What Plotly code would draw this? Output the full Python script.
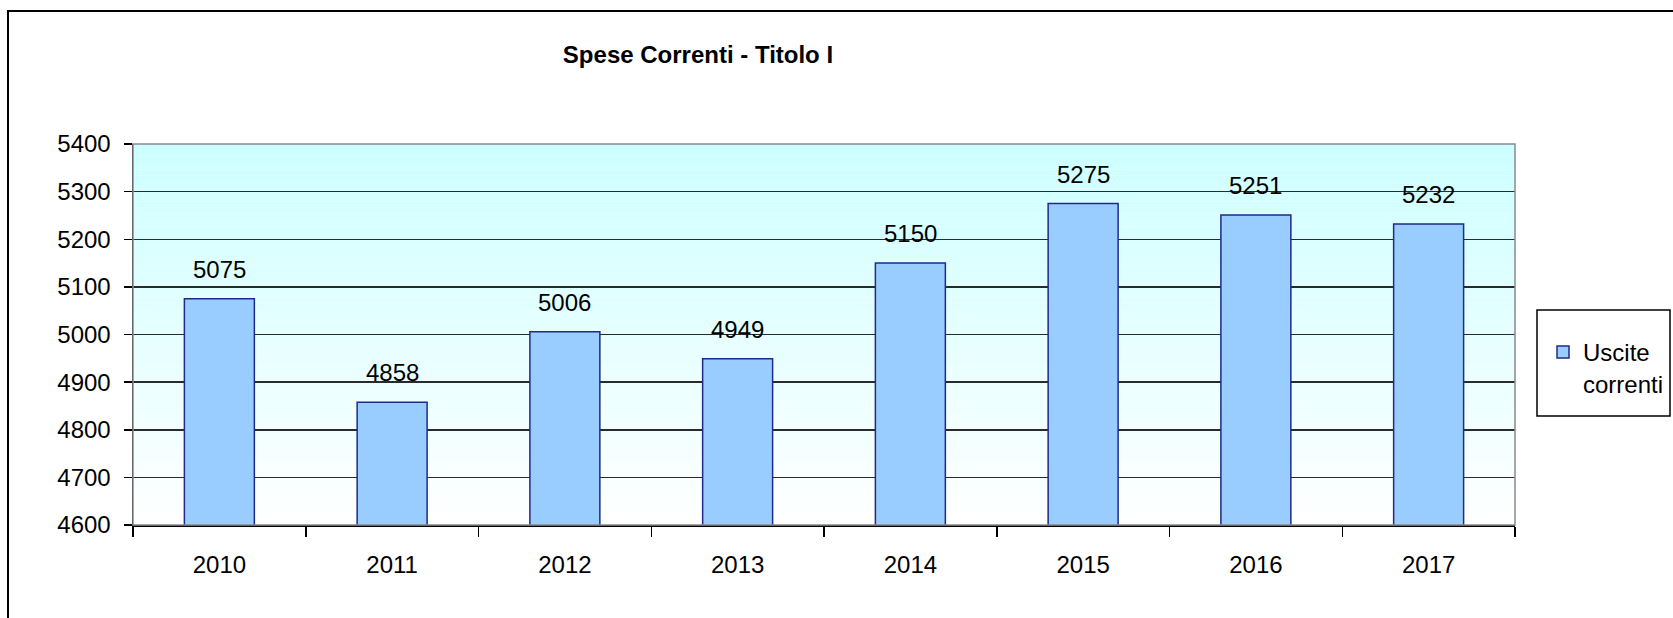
import plotly.graph_objects as go

years = ["2010", "2011", "2012", "2013", "2014", "2015", "2016", "2017"]
values = [5075, 4858, 5006, 4949, 5150, 5275, 5251, 5232]
series_name = "Uscite<br>correnti"
title_text = "Spese Correnti - Titolo I"
y_ticks = [4600, 4700, 4800, 4900, 5000, 5100, 5200, 5300, 5400]

W, H = 1673, 618
L, R, T, B = 133, 1515, 144, 525
pw, ph = R - L, B - T

def px_x(p):
    return (p - L) / pw

def px_y(p):
    return (B - p) / ph

FONT = "Liberation Sans, Arial, sans-serif"
FS = 24

fig = go.Figure()
fig.add_trace(go.Bar(
    x=years, y=values, name=series_name, width=0.405,
    marker=dict(color="#99CCFF", line=dict(color="#1F2A8A", width=1.5)),
    showlegend=True, hoverinfo="skip",
))

annotations = []
for i, v in enumerate(values):
    annotations.append(dict(
        x=i, y=v, text=str(v), showarrow=False, xref="x", yref="y",
        yanchor="bottom", yshift=14, font=dict(family=FONT, size=FS, color="black"),
    ))

shapes = []
# gradient background of plot area
n = 60
top_rgb = (204, 255, 255)
bot_rgb = (255, 255, 255)
for k_ in range(n):
    t = (k_ + 0.5) / n
    c = tuple(round(bot_rgb[k] + (top_rgb[k] - bot_rgb[k]) * t) for k in range(3))
    shapes.append(dict(
        type="rect", xref="paper", yref="paper",
        x0=0, x1=1, y0=k_ / n, y1=(k_ + 1) / n,
        fillcolor="rgb(%d,%d,%d)" % c, line=dict(width=0), layer="below",
    ))
# plot area gray frame (top/right)
shapes.append(dict(
    type="rect", xref="paper", yref="paper", x0=0, x1=1, y0=0, y1=1,
    line=dict(color="#8a8a8a", width=1.5), fillcolor="rgba(0,0,0,0)", layer="above",
))
# outer chart border
shapes.append(dict(
    type="rect", xref="paper", yref="paper",
    x0=px_x(8), x1=px_x(1690), y0=px_y(640), y1=px_y(11),
    line=dict(color="black", width=2), fillcolor="rgba(0,0,0,0)", layer="below",
))
# legend box
shapes.append(dict(
    type="rect", xref="paper", yref="paper",
    x0=px_x(1537), x1=px_x(1670), y0=px_y(416), y1=px_y(310),
    line=dict(color="black", width=1.5), fillcolor="white", layer="below",
))

fig.update_layout(
    width=W, height=H,
    margin=dict(l=L, r=W - R, t=T, b=H - B, pad=0, autoexpand=False),
    paper_bgcolor="white", plot_bgcolor="white",
    font=dict(family=FONT, size=FS, color="black"),
    title=dict(text="<b>%s</b>" % title_text, x=698 / W, xanchor="center",
               y=1 - 55 / H, yanchor="middle", yref="container",
               font=dict(family=FONT, size=24, color="black")),
    showlegend=True,
    legend=dict(xref="container", yref="container", x=1543 / W, y=1 - 330 / H,
                xanchor="left", yanchor="top",
                bgcolor="rgba(0,0,0,0)", borderwidth=0, valign="top",
                font=dict(family=FONT, size=FS, color="black"), itemwidth=30),
    xaxis=dict(type="category", range=[-0.5, len(years) - 0.5], autorange=False,
               showgrid=False, showline=True, linecolor="black", linewidth=1.5,
               ticks="outside", tickson="boundaries", ticklen=10, tickcolor="black", tickwidth=1.5,
               tickangle=0, ticklabelstandoff=18, tickfont=dict(family=FONT, size=FS, color="black")),
    yaxis=dict(range=[4600, 5400], autorange=False, tickvals=y_ticks, showgrid=True,
               gridcolor="#2a2a2a", gridwidth=1.5,
               showline=True, linecolor="black", linewidth=1.5, zeroline=False,
               ticks="outside", ticklen=8, tickcolor="black", tickwidth=1.5,
               ticklabelstandoff=8, tickfont=dict(family=FONT, size=FS, color="black")),
    annotations=annotations, shapes=shapes,
)

fig.write_html(
    "out.html",
    config={"displayModeBar": False, "staticPlot": True},
    post_script="document.body.style.margin='0px';document.body.style.overflow='hidden';",
)
